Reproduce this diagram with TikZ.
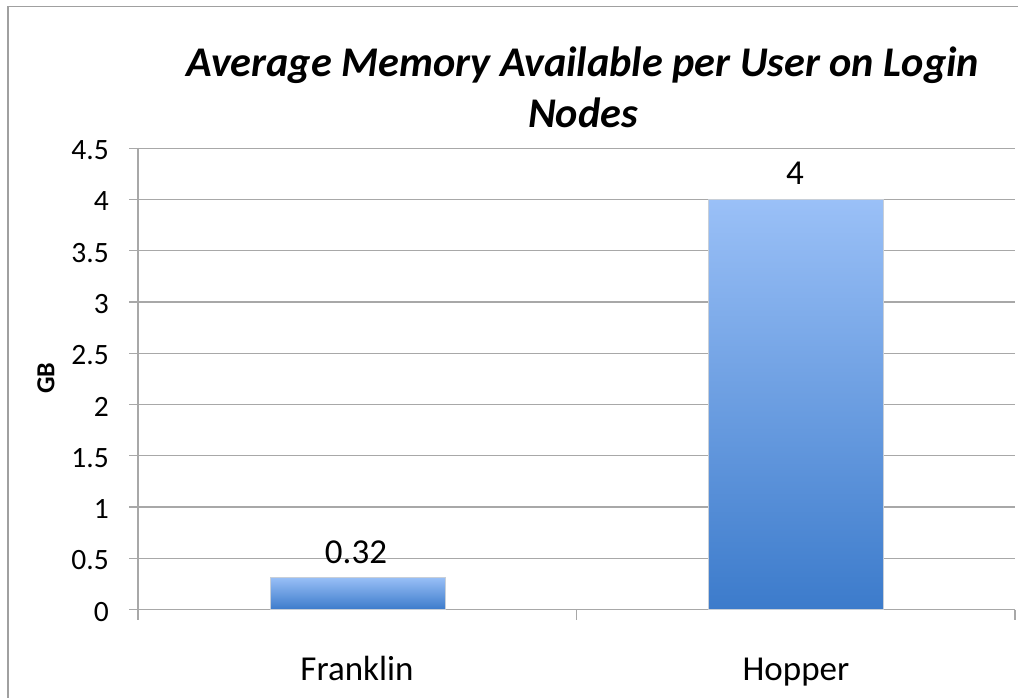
\documentclass[tikz,border=0pt]{standalone}
\usepackage{fontspec}
\setmainfont{Carlito}
\definecolor{gridc}{HTML}{A8A8A8}
\definecolor{framec}{HTML}{A0A0A0}
\definecolor{bartop}{HTML}{9AC0F7}
\definecolor{barbot}{HTML}{3C7BCB}
\definecolor{baredge}{HTML}{C8CFD8}
\tikzset{
  grid line/.style={draw=gridc, line width=1.2pt},
  bar/.style={top color=bartop, bottom color=barbot, draw=baredge, line width=0.8pt},
  ylab/.style={anchor=base east, font=\fontsize{29.5}{32}\selectfont, inner sep=0pt},
  catlab/.style={anchor=base, font=\fontsize{35}{38}\selectfont, inner sep=0pt},
  datalab/.style={anchor=base, font=\fontsize{35}{38}\selectfont, inner sep=0pt},
  titlelab/.style={anchor=base, font=\bfseries\itshape\fontsize{42.3}{48}\selectfont, inner sep=0pt},
}
\begin{document}
\begin{tikzpicture}[x=1pt, y=-1pt]
\useasboundingbox (0,0) rectangle (1018,698);
\fill[white] (0,0) rectangle (1018,698);
% outer frame (left and top visible)
\draw[framec, line width=1.2pt] (8,698) -- (8,6.5) -- (1018,6.5);
% gridlines
\foreach \i in {0,...,9} {
  \pgfmathsetmacro{\yy}{609.5-\i*51.25}
  \draw[grid line] (129,\yy) -- (1015,\yy);
}
% axes and ticks
\draw[grid line] (138,148) -- (138,620);
\draw[grid line] (576.5,609.5) -- (576.5,620);
\draw[grid line] (1015,609.5) -- (1015,620);
% bars
\shade[bar] (270,577) rectangle (445,609.5);
\shade[bar] (708,199.5) rectangle (883,609.5);
% y labels
\foreach \i/\t in {0/0,1/0.5,2/1,3/1.5,4/2,5/2.5,6/3,7/3.5,8/4,9/4.5} {
  \pgfmathsetmacro{\yy}{609.5-\i*51.25+11.5}
  \node[ylab] (y\i) at (109,\yy) {\t};
}
\node[rotate=90, font=\bfseries\fontsize{26}{28}\selectfont, inner sep=0pt] (gb) at (46,378) {GB};
% category labels
\node[catlab] (c1) at (357,680) {Franklin};
\node[catlab] (c2) at (796,680) {Hopper};
% data labels
\node[datalab] (d1) at (356,563) {0.32};
\node[datalab] (d2) at (795,185) {4};
% title
\node[titlelab] (t1) at (583,77) {Average Memory Available per User on Login};
\node[titlelab] (t2) at (583,128) {Nodes};
\end{tikzpicture}
\end{document}
